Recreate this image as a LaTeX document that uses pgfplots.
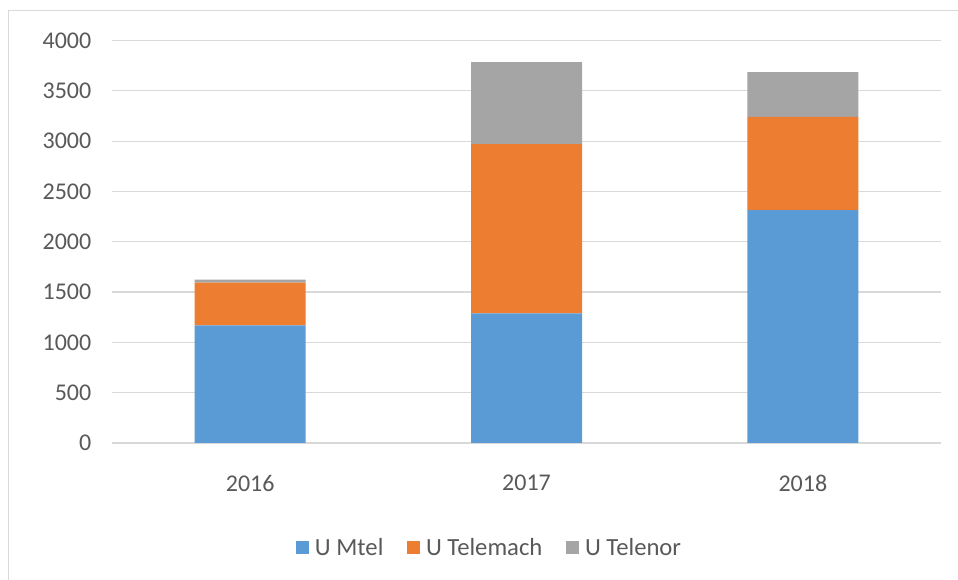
\documentclass[border=0pt]{standalone}
\usepackage{pgfplots}
\pgfplotsset{compat=1.18}
\usepackage{fontspec}
\setmainfont{Carlito}
\definecolor{cblue}{HTML}{5B9BD5}
\definecolor{corange}{HTML}{ED7D31}
\definecolor{cgray}{HTML}{A5A5A5}
\definecolor{gridgray}{HTML}{D9D9D9}
\definecolor{txtgray}{HTML}{595959}
\begin{document}
\begin{tikzpicture}[x=0.75pt,y=0.75pt]
\useasboundingbox (0,0) rectangle (958,580);
\draw[gridgray, line width=0.75pt] (8,0)--(8,569)--(958,569);
\begin{axis}[
  at={(84pt,102.75pt)}, anchor=south west,
  scale only axis, width=621.75pt, height=301.875pt,
  ybar stacked, bar width=83.25pt,
  xmin=-0.5, xmax=2.5, ymin=0, ymax=4000,
  ytick={0,500,...,4000}, xtick={0,1,2}, xticklabels={2016,2017,2018},
  ymajorgrids, grid style={gridgray, line width=0.9pt},
  axis line style={draw=none}, major tick length=0pt,
  tick label style={font=\fontsize{18}{21}\selectfont, text=txtgray},
  /pgf/number format/assume math mode=true,
  /pgf/number format/1000 sep={},
  yticklabel style={xshift=-12pt},
  xticklabel style={yshift=-20.5pt},
  legend style={at={(0.456,-0.261)}, anchor=center, draw=none, fill=none,
    legend columns=3, font=\fontsize{18.5}{21}\selectfont, text=txtgray,
    /tikz/every even column/.append style={column sep=16pt}},
  legend image code/.code={\fill[#1] (0pt,-4.5pt) rectangle (9.5pt,5pt); \path (12pt,0pt);},
]
\addplot[fill=cblue, draw=none] coordinates {(0,1170) (1,1289) (2,2313)};
\addplot[fill=corange, draw=none] coordinates {(0,423) (1,1680) (2,928)};
\addplot[fill=cgray, draw=none] coordinates {(0,30) (1,815) (2,444)};
\legend{U Mtel, U Telemach, U Telenor}
\end{axis}
\end{tikzpicture}
\end{document}
